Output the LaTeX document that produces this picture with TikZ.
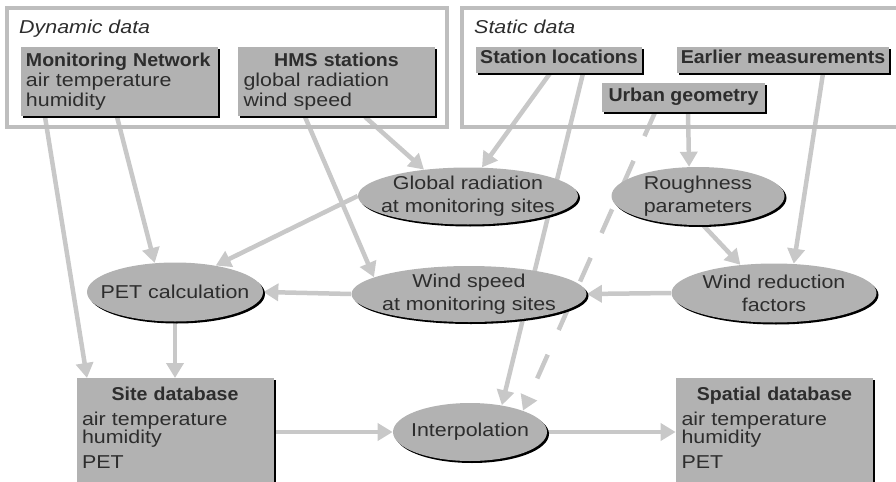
\documentclass[tikz,border=0pt]{standalone}
\usepackage{fontspec}
\setmainfont{Liberation Sans}[UprightFeatures={FakeStretch=1.15},ItalicFeatures={FakeStretch=1.15},BoldFeatures={FakeStretch=1.05}]
\usetikzlibrary{shapes.geometric,shadows,arrows.meta,backgrounds}

\definecolor{boxgray}{RGB}{178,178,178}
\definecolor{linegray}{RGB}{200,200,200}
\definecolor{framegray}{RGB}{190,190,190}
\definecolor{inkgray}{RGB}{45,45,45}

\begin{document}
\begin{tikzpicture}[
  font=\fontsize{10.6}{11.4}\selectfont, text=inkgray,
  blackshadow/.style={drop shadow={shadow xshift=0.04cm,shadow yshift=-0.04cm,fill=black,opacity=1}},
  groupframe/.style={draw=framegray, line width=0.08cm},
  databox/.style={rectangle, fill=boxgray, blackshadow, anchor=north, text width=3.72cm, inner xsep=0.11cm, align=left},
  srcbox/.style={rectangle, fill=boxgray, blackshadow, font=\fontsize{10.6}{11.4}\selectfont\bfseries, minimum height=0.52cm, inner xsep=0.08cm, inner ysep=0.04cm, text depth=0.12cm},
  procnode/.style={ellipse, fill=boxgray, blackshadow, inner sep=0pt},
  proclabel/.style={align=center, font=\fontsize{10.6}{13}\selectfont, text=inkgray},
  flow/.style={draw=linegray, line width=0.09cm, -{Triangle[length=0.3cm,width=0.34cm]}}
]
  \clip (0,0) rectangle (17.92,-9.64);

  % dynamic and static groups
  \draw[groupframe] (0.14,-0.16) rectangle (8.94,-2.54);
  \draw[groupframe] (9.24,-0.16) rectangle (18.2,-2.54);
  \node[anchor=base west] (dyn) at (0.26,-0.66) {\itshape Dynamic data};
  \node[anchor=base west] (stat) at (9.36,-0.66) {\itshape Static data};

  \node[databox, minimum height=1.34cm] (mon) at (2.38,-0.94)
    {\textbf{Monitoring Network}\\air temperature\\humidity};
  \node[databox, minimum height=1.34cm] (hms) at (6.73,-0.94)
    {\makebox[\linewidth]{\bfseries HMS stations}\\global radiation\\wind speed};
  \node[srcbox, minimum width=3.32cm] (sta) at (11.18,-1.20) {Station locations};
  \node[srcbox, minimum width=4.24cm] (ear) at (15.66,-1.20) {Earlier measurements};
  \node[srcbox, minimum width=3.26cm, minimum height=0.58cm] (urb) at (13.67,-1.95) {Urban geometry};

  % processing steps
  \node[procnode, minimum width=4.40cm, minimum height=1.14cm,
    label={[proclabel]center:Global radiation\\at monitoring sites}] (glob) at (9.36,-3.92) {};
  \node[procnode, minimum width=3.46cm, minimum height=1.16cm,
    label={[proclabel]center:Roughness\\parameters}] (rough) at (13.96,-3.92) {};
  \node[procnode, minimum width=3.52cm, minimum height=1.18cm,
    label={[proclabel]center:PET calculation}] (pet) at (3.50,-5.84) {};
  \node[procnode, minimum width=4.70cm, minimum height=1.12cm,
    label={[proclabel]center:Wind speed\\at monitoring sites}] (wind) at (9.38,-5.88) {};
  \node[procnode, minimum width=4.10cm, minimum height=1.18cm,
    label={[proclabel]center:Wind reduction\\factors}] (wred) at (15.48,-5.86) {};
  \node[procnode, minimum width=3.08cm, minimum height=1.16cm,
    label={[proclabel]center:Interpolation}] (interp) at (9.40,-8.64) {};

  % databases
  \node[databox, text depth=2cm, inner ysep=0.17cm] (site) at (3.50,-7.56)
    {\makebox[\linewidth]{\bfseries Site database}\\[0.1cm]air temperature\\[-0.04cm]humidity\\[0.1cm]PET};
  \node[databox, text depth=2cm, inner ysep=0.17cm] (spat) at (15.49,-7.56)
    {\makebox[\linewidth]{\bfseries Spatial database}\\[0.1cm]air temperature\\[-0.04cm]humidity\\[0.1cm]PET};

  \begin{scope}[on background layer]
    \draw[flow] ([xshift=-1.48cm]mon.south) -- ([xshift=-1.76cm]site.north);
    \draw[flow] ([xshift=-0.04cm]mon.south) -- (pet.125);
    \draw[flow] ([xshift=-0.63cm]hms.south) -- (wind.170);
    \draw[flow] ([xshift=0.57cm]hms.south) -- (glob.149);
    \draw[flow] ([xshift=-0.18cm]sta.south) -- (glob.64);
    \draw[flow] ([xshift=0.48cm]sta.south) -- (interp.40);
    \draw[flow, dash pattern=on 0.52cm off 0.54cm] ([xshift=-0.57cm]urb.south) -- (interp.22);
    \draw[flow] ([xshift=0.09cm]urb.south) -- (rough.107);
    \draw[flow] ([xshift=0.8cm]ear.south) -- (wred.56);
    \draw[flow] (rough.-80) -- (wred.140);
    \draw[flow] (wred.west) -- (wind.east);
    \draw[flow] (wind.west) -- (pet.east);
    \draw[flow] (glob.west) -- (pet.33);
    \draw[flow] (pet.south) -- (site.north);
    \draw[flow] (site.east |- interp.west) -- (interp.west);
    \draw[flow] (interp.east) -- (interp.east -| spat.west);
  \end{scope}
\end{tikzpicture}
\end{document}
